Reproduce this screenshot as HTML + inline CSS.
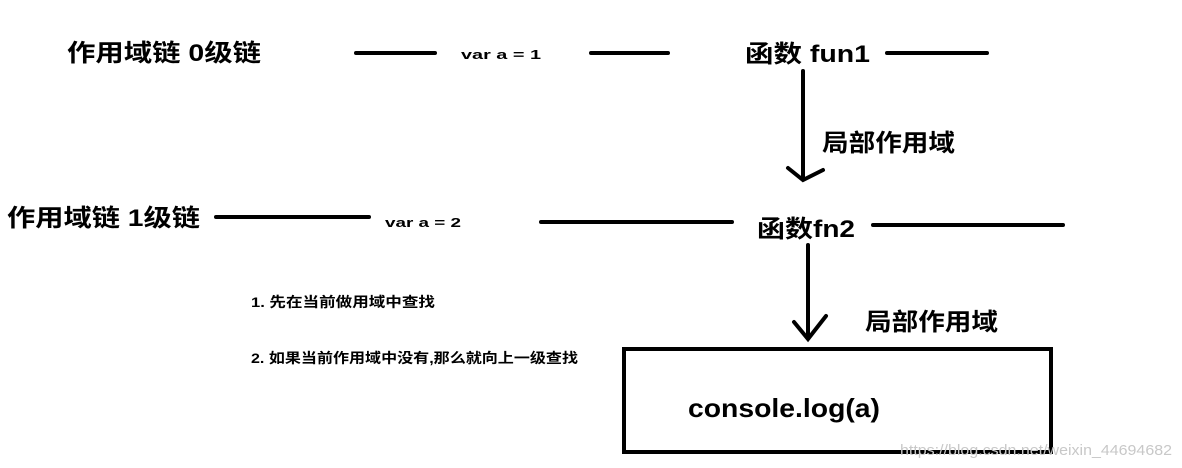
<!DOCTYPE html>
<html><head><meta charset="utf-8"><style>
html,body{margin:0;padding:0;background:#fff;}
svg{display:block;}
text{font-family:"Liberation Sans","Noto Sans CJK SC",sans-serif;font-weight:bold;fill:#000;}
</style></head><body>
<svg width="1182" height="468" viewBox="0 0 1182 468" xmlns="http://www.w3.org/2000/svg">
<g stroke="#000" stroke-width="4" stroke-linecap="round" fill="none">
<line x1="356" y1="53" x2="435" y2="53"/>
<line x1="591" y1="53" x2="668" y2="53"/>
<line x1="887" y1="53" x2="987" y2="53"/>
<line x1="216" y1="217" x2="369" y2="217"/>
<line x1="541" y1="222" x2="732" y2="222"/>
<line x1="873" y1="225" x2="1063" y2="225"/>
<line x1="803" y1="71" x2="803" y2="179"/>
<polyline points="788,168 803,180 823,170"/>
<line x1="808" y1="245" x2="808" y2="338"/>
<polyline points="794,322 808,339 826,316"/>
</g>
<rect x="624" y="349" width="427" height="103" fill="none" stroke="#000" stroke-width="4"/>
<text x="67" y="61" font-size="24" textLength="194" lengthAdjust="spacingAndGlyphs">作用域链  0级链</text>
<text x="461" y="59" font-size="13" textLength="80" lengthAdjust="spacingAndGlyphs">var  a  = 1</text>
<text x="745" y="62" font-size="24" textLength="125" lengthAdjust="spacingAndGlyphs">函数 fun1</text>
<text x="822" y="151" font-size="24" textLength="133" lengthAdjust="spacingAndGlyphs">局部作用域</text>
<text x="7" y="226" font-size="24" textLength="193" lengthAdjust="spacingAndGlyphs">作用域链  1级链</text>
<text x="385" y="227" font-size="13" textLength="76" lengthAdjust="spacingAndGlyphs">var  a = 2</text>
<text x="757" y="237" font-size="24" textLength="98" lengthAdjust="spacingAndGlyphs">函数fn2</text>
<text x="865" y="330" font-size="24" textLength="133" lengthAdjust="spacingAndGlyphs">局部作用域</text>
<text x="251" y="307" font-size="14" textLength="184" lengthAdjust="spacingAndGlyphs">1.  先在当前做用域中查找</text>
<text x="251" y="363" font-size="14" textLength="327" lengthAdjust="spacingAndGlyphs">2. 如果当前作用域中没有,那么就向上一级查找</text>
<text x="688" y="417" font-size="26" textLength="192" lengthAdjust="spacingAndGlyphs">console.log(a)</text>
<text x="900" y="455" font-size="15" fill="#ccc" style="fill:#c8c8c8;font-weight:normal" textLength="272" lengthAdjust="spacingAndGlyphs">https://blog.csdn.net/weixin_44694682</text>
</svg>
</body></html>
